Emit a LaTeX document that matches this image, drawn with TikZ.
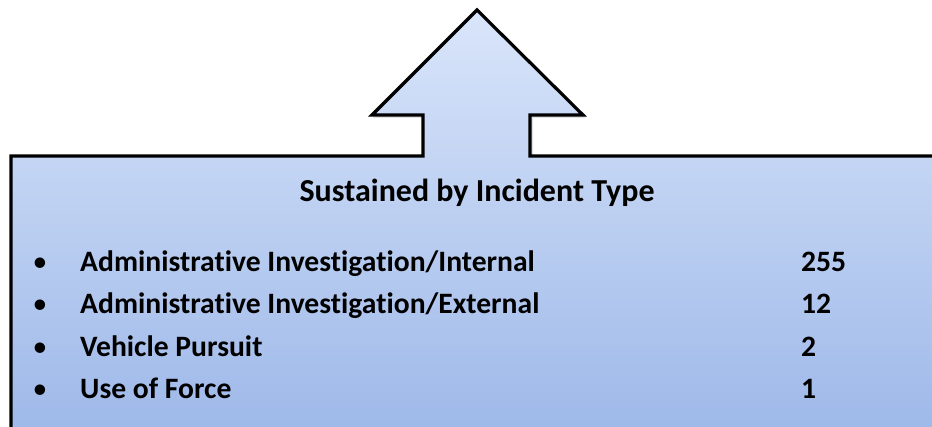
\documentclass[tikz,border=0pt]{standalone}
\usepackage{fontspec}
\setmainfont{Carlito}[Ligatures={NoCommon,NoContextual}]
\begin{document}
\begin{tikzpicture}[x=1pt,y=-1pt,
  outline/.style={draw=black,line width=3.2pt,line join=miter,
    top color={rgb,255:red,217;green,229;blue,250},
    bottom color={rgb,255:red,156;green,183;blue,232}},
  lbl/.style={anchor=base west,font=\bfseries\fontsize{29.6}{34}\selectfont,inner sep=0pt},
  bul/.style={anchor=base,font=\fontsize{29.6}{34}\selectfont,inner sep=0pt}]
\useasboundingbox (0,0) rectangle (932,427);
% soft shadow
\fill[black!12] (373,118) -- (478,13) -- (586,118) -- (533,118) -- (533,159) -- (940,159) -- (940,440) -- (14,440) -- (14,159) -- (426,159) -- (426,118) -- cycle;
\draw[outline] (372,115) -- (477,10) -- (583,115) -- (530,115) -- (530,156) -- (945,156) -- (945,445) -- (11,445) -- (11,156) -- (423,156) -- (423,115) -- cycle;
\node[anchor=base,font=\bfseries\fontsize{32}{38}\selectfont,inner sep=0pt] (title) at (477,202) {Sustained by Incident Type};
\node[bul] (b1) at (40,272) {\textbullet};
\node[bul] (b2) at (40,314) {\textbullet};
\node[bul] (b3) at (40,357) {\textbullet};
\node[bul] (b4) at (40,399) {\textbullet};
\node[lbl] (l1) at (80,272) {Administrative Investigation/Internal};
\node[lbl] (l2) at (80,314) {Administrative Investigation/External};
\node[lbl] (l3) at (80,357) {Vehicle Pursuit};
\node[lbl] (l4) at (80,399) {Use of Force};
\node[lbl] (n1) at (801,272) {255};
\node[lbl] (n2) at (801,314) {12};
\node[lbl] (n3) at (801,357) {2};
\node[lbl] (n4) at (801,399) {1};
\end{tikzpicture}
\end{document}
